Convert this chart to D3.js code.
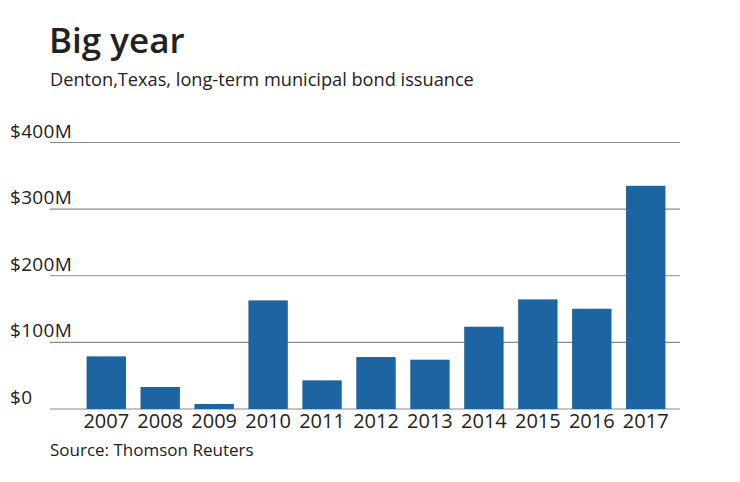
<!DOCTYPE html>
<html>
<head>
<meta charset="utf-8">
<script src="https://cdn.jsdelivr.net/npm/d3@7"></script>
<style>
  body { margin: 0; background: #fff; }
  text { font-family: "Open Sans", "Lato", sans-serif; fill: #222; }
</style>
</head>
<body>
<div id="chart"></div>
<script>
var years = ["2007", "2008", "2009", "2010", "2011", "2012", "2013", "2014", "2015", "2016", "2017"];
var issuance = [79, 33, 7.5, 163, 43, 78, 74, 123.5, 164.5, 150.5, 335];
var tickValues = [0, 100, 200, 300, 400];
var tickLabels = ["$0", "$100M", "$200M", "$300M", "$400M"];

var width = 740, height = 482;

var svg = d3.select("#chart")
    .append("svg")
    .attr("width", width)
    .attr("height", height);

svg.append("text")
    .attr("x", 49)
    .attr("y", 53)
    .style("font-size", "35px")
    .style("font-weight", "600")
    .text("Big year");

svg.append("text")
    .attr("x", 50)
    .attr("y", 86)
    .style("font-size", "18.2px")
    .text("Denton,Texas, long-term municipal bond issuance");

var y = d3.scaleLinear()
    .domain([0, 400])
    .range([409, 142.5]);

var x = d3.scaleBand()
    .domain(years)
    .range([72, 680])
    .paddingInner(0.27)
    .paddingOuter(0.27);

// gridlines
svg.selectAll("line.grid")
    .data(tickValues)
    .enter()
    .append("line")
    .attr("class", "grid")
    .attr("x1", 50)
    .attr("x2", 680)
    .attr("y1", function (d) { return y(d); })
    .attr("y2", function (d) { return y(d); })
    .attr("stroke", "#8a8a8a")
    .attr("stroke-width", 1.2);

svg.selectAll("text.ylab")
    .data(tickValues)
    .enter()
    .append("text")
    .attr("class", "ylab")
    .attr("x", 10)
    .attr("y", function (d) { return y(d) - 5; })
    .style("font-size", "19px")
    .style("letter-spacing", "0.3px")
    .text(function (d, i) { return tickLabels[i]; });

svg.selectAll("rect.bar")
    .data(issuance)
    .enter()
    .append("rect")
    .attr("class", "bar")
    .attr("x", function (d, i) { return x(years[i]); })
    .attr("width", x.bandwidth())
    .attr("y", function (d) { return y(d); })
    .attr("height", function (d) { return y(0) - y(d); })
    .attr("fill", "#1c65a0");

svg.selectAll("text.xlab")
    .data(years)
    .enter()
    .append("text")
    .attr("class", "xlab")
    .attr("x", function (d) { return x(d) + x.bandwidth() / 2; })
    .attr("y", 428)
    .attr("text-anchor", "middle")
    .style("font-size", "20px")
    .text(function (d) { return d; });

svg.append("text")
    .attr("x", 50)
    .attr("y", 456)
    .style("font-size", "17px")
    .text("Source: Thomson Reuters");
</script>
</body>
</html>
